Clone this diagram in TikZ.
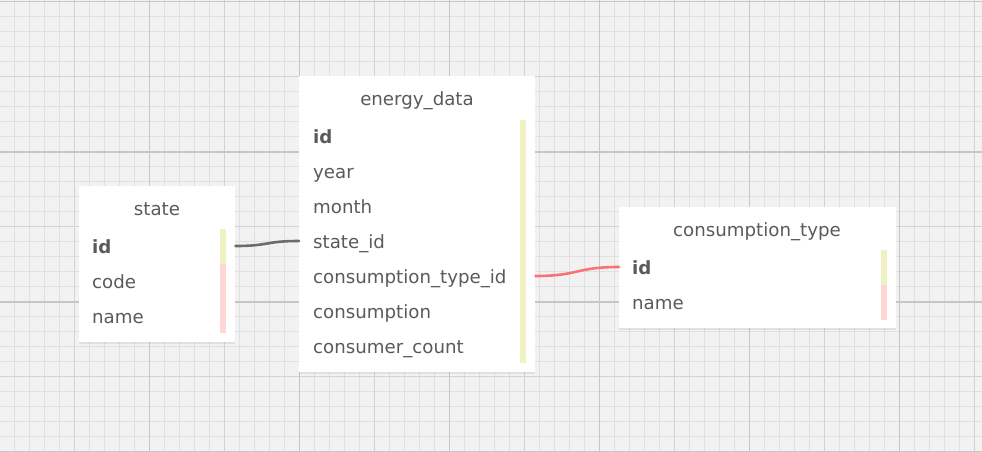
\documentclass[tikz,border=0pt]{standalone}
\usepackage{fontspec}
\setmainfont{DejaVu Sans}
\usetikzlibrary{shadows}
\definecolor{paper}{HTML}{F2F2F2}
\definecolor{gridminor}{HTML}{E0E0E0}
\definecolor{gridmid}{HTML}{D3D3D3}
\definecolor{gridmajor}{HTML}{C6C6C6}
\definecolor{ink}{HTML}{5A5A5A}
\definecolor{keybar}{HTML}{F1F2C4}
\definecolor{nullbar}{HTML}{FFD6D6}
\definecolor{linkgrey}{HTML}{6B6B6B}
\definecolor{linkred}{HTML}{F87474}
\tikzset{
  tablebox/.style={draw=none, fill=white, anchor=north west, inner sep=0,
    drop shadow={shadow xshift=0pt, shadow yshift=-1.5pt, opacity=0.15}},
  heading/.style={text=ink, font=\fontsize{18.2}{21}\selectfont, anchor=mid, inner sep=0},
  field/.style={text=ink, font=\fontsize{18.2}{21}\selectfont, anchor=mid west, inner sep=0},
  link/.style={line width=2.6pt, line cap=round}
}

\begin{document}
\begin{tikzpicture}[x=1pt,y=-1pt]
\useasboundingbox (0,0) rectangle (982,452);
\fill [paper] (0,0) rectangle (982,452);

% grid
\foreach \x in {14.5,29.5,...,982} \draw [gridminor, line width=1.5pt] (\x,0)--(\x,452);
\foreach \y in {1.7,16.7,...,452} \draw [gridminor, line width=1.5pt] (0,\y)--(982,\y);
\foreach \x in {74.5,224.5,...,982} \draw [gridmid, line width=1.5pt] (\x,0)--(\x,452);
\foreach \y in {76.7,226.7,376.7} \draw [gridmid, line width=1.5pt] (0,\y)--(982,\y);
\foreach \x in {149.5,299.5,...,982} \draw [gridmajor, line width=1.6pt] (\x,0)--(\x,452);
\foreach \y in {1.7,151.7,301.7,451.7} \draw [gridmajor, line width=1.6pt] (0,\y)--(982,\y);

% tables
\node [tablebox, minimum width=156, minimum height=156] (state) at (79,186) {};
\node [tablebox, minimum width=236, minimum height=296] (energy) at (299,76) {};
\node [tablebox, minimum width=277, minimum height=121] (ctype) at (619,207) {};

% key / nullable bars
\fill [keybar] (220,229) rectangle (226,264);
\fill [nullbar] (220,264) rectangle (226,333);
\fill [keybar] (520,120) rectangle (526,363);
\fill [keybar] (881,250) rectangle (887,285);
\fill [nullbar] (881,285) rectangle (887,320);

% state
\node [heading] (state-title) at (157,212.5) {state};
\node [field] (state-id) at (92,250.5) {\textbf{id}};
\node [field] (state-code) at (92,285.5) {code};
\node [field] (state-name) at (92,320.5) {name};

% energy_data
\node [heading] (energy-title) at (417,102.5) {energy\_data};
\node [field] (energy-id) at (313,140.5) {\textbf{id}};
\node [field] (energy-year) at (313,175.5) {year};
\node [field] (energy-month) at (313,210.5) {month};
\node [field] (energy-state) at (313,245.5) {state\_id};
\node [field] (energy-ctype) at (313,280.5) {consumption\_type\_id};
\node [field] (energy-cons) at (313,315.5) {consumption};
\node [field] (energy-count) at (313,350.5) {consumer\_count};

% consumption_type
\node [heading] (ctype-title) at (757,233.5) {consumption\_type};
\node [field] (ctype-id) at (632,271.5) {\textbf{id}};
\node [field] (ctype-name) at (632,306.5) {name};

% relations
\draw [link, linkgrey] ([yshift=4.5pt]state.east |- state-id.mid) .. controls +(34,0) and +(-34,0) .. ([yshift=4.5pt]energy.west |- energy-state.mid);
\draw [link, linkred] ([yshift=4.5pt]energy.east |- energy-ctype.mid) .. controls +(44,0) and +(-44,0) .. ([yshift=4.5pt]ctype.west |- ctype-id.mid);

\end{tikzpicture}
\end{document}
